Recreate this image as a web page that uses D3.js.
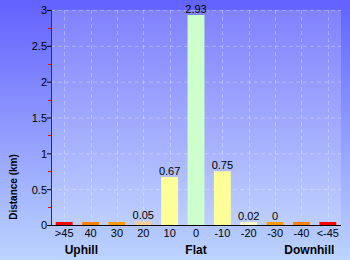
<!DOCTYPE html>
<html>
<head>
<meta charset="utf-8">
<script src="https://cdn.jsdelivr.net/npm/d3@7"></script>
<style>
  body { margin: 0; }
  svg { display: block; font-family: "Liberation Sans", Arial, sans-serif; }
</style>
</head>
<body>
<div id="chart"></div>
<script>
const categories = [">45", "40", "30", "20", "10", "0", "-10", "-20", "-30", "-40", "<-45"];
const values = [0.005, 0.005, 0.005, 0.05, 0.67, 2.93, 0.75, 0.02, 0.005, 0.005, 0.005];
const valueLabels = [null, null, null, "0.05", "0.67", "2.93", "0.75", "0.02", "0", null, null];
const barColors = ["#ff0000", "#ff8000", "#ff9900", "#ffcc99", "#ffff99", "#ccffcc", "#ffff99", "#ffffcc", "#ff9900", "#ff8000", "#ff0000"];
const yTicks = [0, 0.5, 1, 1.5, 2, 2.5, 3];
const groupLabels = [["Uphill", 0.65], ["Flat", 5], ["Downhill", 9.3]];

const W = 350, H = 260;
const margin = {top: 10, right: 9, bottom: 35, left: 51};
const width = W - margin.left - margin.right;
const height = H - margin.top - margin.bottom;

const svg = d3.select("#chart").append("svg")
  .attr("width", W).attr("height", H);

const defs = svg.append("defs");
const grad = defs.append("linearGradient")
  .attr("id", "bg").attr("x1", 0).attr("y1", 0).attr("x2", 0).attr("y2", 1);
grad.append("stop").attr("offset", "0%").attr("stop-color", "#6262fd");
grad.append("stop").attr("offset", "100%").attr("stop-color", "#bcd4ff");

svg.append("rect").attr("width", W).attr("height", H).attr("fill", "url(#bg)");

const g = svg.append("g").attr("transform", `translate(${margin.left},${margin.top})`);

g.append("rect")
  .attr("width", width).attr("height", height)
  .attr("fill", "#ffffff").attr("fill-opacity", 0.18);

const x = d3.scaleBand().domain(categories).range([0, width]).paddingInner(0.36).paddingOuter(0.18);
const y = d3.scaleLinear().domain([0, 3]).range([height, 0]);

// grid
g.append("g").selectAll("line.h")
  .data(yTicks.slice(1))
  .join("line")
  .attr("x1", 0).attr("x2", width)
  .attr("y1", d => y(d) + 0.5).attr("y2", d => y(d) + 0.5)
  .attr("stroke", "#ffffff").attr("stroke-opacity", 0.3)
  .attr("stroke-dasharray", "4,3");
g.append("g").selectAll("line.v")
  .data(categories)
  .join("line")
  .attr("x1", d => Math.round(x(d) + x.bandwidth() / 2) + 0.5)
  .attr("x2", d => Math.round(x(d) + x.bandwidth() / 2) + 0.5)
  .attr("y1", 0).attr("y2", height)
  .attr("stroke", "#ffffff").attr("stroke-opacity", 0.3)
  .attr("stroke-dasharray", "4,3");

// bars (tiny values get a minimum visible height)
g.selectAll("rect.bar")
  .data(values)
  .join("rect")
  .attr("class", "bar")
  .attr("x", (d, i) => x(categories[i]))
  .attr("width", x.bandwidth())
  .attr("y", d => Math.min(y(d), height - 3))
  .attr("height", d => Math.max(height - y(d), 3))
  .attr("fill", (d, i) => barColors[i]);

g.selectAll("text.val")
  .data(values)
  .join("text")
  .attr("x", (d, i) => x(categories[i]) + x.bandwidth() / 2)
  .attr("y", d => Math.min(y(d), height - 3) - 2)
  .attr("text-anchor", "middle")
  .attr("font-size", 11)
  .attr("fill", "#000")
  .text((d, i) => valueLabels[i]);

// y axis
const yAxis = g.append("g")
  .call(d3.axisLeft(y).tickValues(yTicks).tickSize(4).tickFormat(d3.format("")));
yAxis.select(".domain").attr("stroke", "#333").attr("d", `M0.5,0V${height}`);
yAxis.selectAll(".tick line").attr("stroke", "#000");
yAxis.selectAll("text").attr("font-size", 11).attr("fill", "#000").attr("x", -4).attr("dy", "0.35em");

// red minor ticks
g.append("g").selectAll("line")
  .data(d3.range(0.25, 3, 0.5))
  .join("line")
  .attr("x1", -3).attr("x2", 0)
  .attr("y1", d => Math.round(y(d)) + 0.5).attr("y2", d => Math.round(y(d)) + 0.5)
  .attr("stroke", "#ff0000");

// x axis
const xAxis = g.append("g")
  .attr("transform", `translate(0,${height})`)
  .call(d3.axisBottom(x).tickSize(0).tickPadding(4));
xAxis.select(".domain").attr("stroke", "#000").attr("d", `M0,0.5H${width}`);
xAxis.selectAll("text").attr("font-size", 11).attr("fill", "#000");

// group labels
g.selectAll("text.grp")
  .data(groupLabels)
  .join("text")
  .attr("x", d => x(categories[0]) + x.step() * d[1] + x.bandwidth() / 2)
  .attr("y", height + 29)
  .attr("text-anchor", "middle")
  .attr("font-size", 12)
  .attr("font-weight", "bold")
  .attr("fill", "#000")
  .text(d => d[0]);

// y title
svg.append("text")
  .attr("transform", "translate(17,187) rotate(-90)")
  .attr("text-anchor", "middle")
  .attr("font-size", 10)
  .attr("font-weight", "bold")
  .attr("fill", "#000")
  .text("Distance (km)");
</script>
</body>
</html>
